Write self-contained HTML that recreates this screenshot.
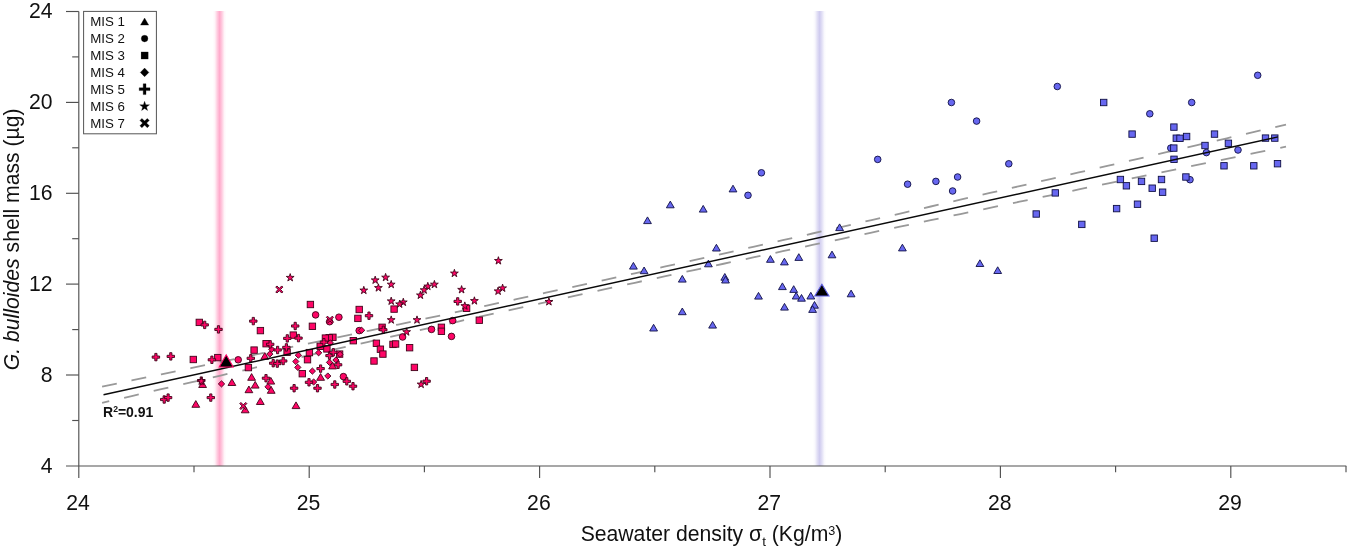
<!DOCTYPE html>
<html lang="en"><head><meta charset="utf-8"><title>G. bulloides shell mass vs seawater density</title>
<style>html,body{margin:0;padding:0;background:#fff}body{width:1350px;height:549px;overflow:hidden}svg{display:block}text{font-family:"Liberation Sans",sans-serif;fill:#111}</style></head><body>
<svg width="1350" height="549" viewBox="0 0 1350 549">
<defs>
<linearGradient id="gp" x1="0" x2="1" y1="0" y2="0"><stop offset="0" stop-color="#ffaacb" stop-opacity="0"/><stop offset="0.15" stop-color="#ffaacb" stop-opacity="0.12"/><stop offset="0.33" stop-color="#ffaacb" stop-opacity="0.62"/><stop offset="0.5" stop-color="#ffaacb" stop-opacity="1"/><stop offset="0.67" stop-color="#ffaacb" stop-opacity="0.62"/><stop offset="0.85" stop-color="#ffaacb" stop-opacity="0.12"/><stop offset="1" stop-color="#ffaacb" stop-opacity="0"/></linearGradient>
<linearGradient id="gb" x1="0" x2="1" y1="0" y2="0"><stop offset="0" stop-color="#cfcbef" stop-opacity="0"/><stop offset="0.15" stop-color="#cfcbef" stop-opacity="0.12"/><stop offset="0.33" stop-color="#cfcbef" stop-opacity="0.62"/><stop offset="0.5" stop-color="#cfcbef" stop-opacity="1"/><stop offset="0.67" stop-color="#cfcbef" stop-opacity="0.62"/><stop offset="0.85" stop-color="#cfcbef" stop-opacity="0.12"/><stop offset="1" stop-color="#cfcbef" stop-opacity="0"/></linearGradient>
</defs>
<rect width="1350" height="549" fill="#fff"/>
<rect x="212.8" y="11" width="13.6" height="455" fill="url(#gp)"/>
<rect x="812.8" y="11" width="13.6" height="455" fill="url(#gb)"/>
<g stroke="#505050" stroke-width="1.15" fill="none"><path d="M78.8 11.5V478"/><path d="M66 466H1346.3"/><path d="M72.2 420.5H78.8"/><path d="M66 375H78.8"/><path d="M72.2 329.6H78.8"/><path d="M66 284.1H78.8"/><path d="M72.2 238.7H78.8"/><path d="M66 193.3H78.8"/><path d="M72.2 147.8H78.8"/><path d="M66 102.4H78.8"/><path d="M72.2 56.9H78.8"/><path d="M66 11.5H78.8"/><path d="M194 466V472.2"/><path d="M309.2 466V478"/><path d="M424.4 466V472.2"/><path d="M539.6 466V478"/><path d="M654.8 466V472.2"/><path d="M770 466V478"/><path d="M885.2 466V472.2"/><path d="M1000.4 466V478"/><path d="M1115.6 466V472.2"/><path d="M1230.8 466V478"/><path d="M1346 466V472.2"/></g>
<g font-size="21.2"><text x="52.6" y="472.7" text-anchor="end">4</text><text x="52.6" y="381.8" text-anchor="end">8</text><text x="52.6" y="290.9" text-anchor="end">12</text><text x="52.6" y="200.1" text-anchor="end">16</text><text x="52.6" y="109.2" text-anchor="end">20</text><text x="52.6" y="18.3" text-anchor="end">24</text><text x="78.1" y="510.4" text-anchor="middle">24</text><text x="308.5" y="510.4" text-anchor="middle">25</text><text x="538.9" y="510.4" text-anchor="middle">26</text><text x="769.3" y="510.4" text-anchor="middle">27</text><text x="999.7" y="510.4" text-anchor="middle">28</text><text x="1230.1" y="510.4" text-anchor="middle">29</text></g>
<text x="711.5" y="540.6" font-size="21.2" text-anchor="middle">Seawater density σ<tspan font-size="13.5" dy="5">t</tspan><tspan dy="-5"> (Kg/m</tspan><tspan font-size="12.6" dy="-5.6">3</tspan><tspan dy="5.6">)</tspan></text>
<text transform="translate(19 239.3) rotate(-90)" font-size="21.2" text-anchor="middle"><tspan font-style="italic">G. bulloides</tspan> shell mass (µg)</text>
<g fill="none" stroke="#999" stroke-width="1.8"><polyline points="102.1,386.66 116.9,383.58 131.7,380.49 146.5,377.41 161.3,374.32 176.1,371.23 190.9,368.14 205.7,365.05 220.5,361.95 235.3,358.85 250.1,355.75 264.9,352.64 279.7,349.54 294.5,346.43 309.3,343.31 324.1,340.19 338.9,337.07 353.7,333.94 368.5,330.81 383.3,327.67 398.1,324.53 412.9,321.38 427.7,318.22 442.4,315.06 457.2,311.90 472,308.72 486.8,305.54 501.6,302.35 516.4,299.16 531.2,295.95 546,292.74 560.8,289.52 575.6,286.29 590.4,283.05 605.2,279.80 620,276.55 634.8,273.28 649.6,270.01 664.4,266.73 679.2,263.44 694,260.14 708.8,256.83 723.6,253.52 738.4,250.20 753.2,246.87 768,243.54 782.8,240.20 797.6,236.85 812.4,233.50 827.2,230.14 842,226.77 856.8,223.41 871.6,220.03 886.4,216.66 901.2,213.28 916,209.89 930.8,206.50 945.6,203.11 960.4,199.72 975.2,196.32 990,192.92 1004.8,189.52 1019.6,186.11 1034.4,182.71 1049.2,179.30 1064,175.89 1078.8,172.47 1093.6,169.06 1108.4,165.64 1123.2,162.22 1138,158.80 1152.8,155.38 1167.6,151.96 1182.4,148.54 1197.2,145.11 1212,141.69 1226.8,138.26 1241.6,134.83 1256.4,131.40 1271.2,127.97 1286,124.54" stroke-dasharray="15 15.04"/><polyline points="102.1,402.85 116.9,399.43 131.7,396.01 146.5,392.60 161.3,389.18 176.1,385.77 190.9,382.36 205.7,378.96 220.5,375.55 235.3,372.15 250.1,368.76 264.9,365.37 279.7,361.98 294.5,358.60 309.3,355.22 324.1,351.84 338.9,348.47 353.7,345.11 368.5,341.76 383.3,338.41 398.1,335.06 412.9,331.73 427.7,328.40 442.4,325.08 457.2,321.77 472,318.46 486.8,315.17 501.6,311.89 516.4,308.61 531.2,305.35 546,302.09 560.8,298.85 575.6,295.61 590.4,292.38 605.2,289.17 620,285.96 634.8,282.76 649.6,279.58 664.4,276.40 679.2,273.22 694,270.06 708.8,266.90 723.6,263.75 738.4,260.61 753.2,257.48 768,254.34 782.8,251.22 797.6,248.10 812.4,244.98 827.2,241.87 842,238.77 856.8,235.66 871.6,232.56 886.4,229.47 901.2,226.38 916,223.29 930.8,220.20 945.6,217.12 960.4,214.03 975.2,210.95 990,207.88 1004.8,204.80 1019.6,201.73 1034.4,198.66 1049.2,195.59 1064,192.52 1078.8,189.45 1093.6,186.38 1108.4,183.32 1123.2,180.26 1138,177.19 1152.8,174.13 1167.6,171.07 1182.4,168.01 1197.2,164.95 1212,161.90 1226.8,158.84 1241.6,155.78 1256.4,152.73 1271.2,149.67 1286,146.62" stroke-dasharray="15 15.33" stroke-dashoffset="7.7"/></g>
<g stroke-linejoin="miter"><path d="M264.8 352.6L268.7 359.3H260.9Z" fill="#ff0566" stroke="#40041a" stroke-width="0.9"/><path d="M202.6 380.8L206.5 387.5H198.7Z" fill="#ff0566" stroke="#40041a" stroke-width="0.9"/><path d="M231.9 378.8L235.8 385.5H228Z" fill="#ff0566" stroke="#40041a" stroke-width="0.9"/><path d="M251.6 373.6L255.5 380.3H247.7Z" fill="#ff0566" stroke="#40041a" stroke-width="0.9"/><path d="M255.2 381.4L259.1 388.1H251.3Z" fill="#ff0566" stroke="#40041a" stroke-width="0.9"/><path d="M248.9 386L252.8 392.7H245Z" fill="#ff0566" stroke="#40041a" stroke-width="0.9"/><path d="M270.8 377.4L274.7 384.1H266.9Z" fill="#ff0566" stroke="#40041a" stroke-width="0.9"/><path d="M271.2 386.6L275.1 393.3H267.3Z" fill="#ff0566" stroke="#40041a" stroke-width="0.9"/><path d="M195.8 400.6L199.7 407.3H191.9Z" fill="#ff0566" stroke="#40041a" stroke-width="0.9"/><path d="M260.3 397.8L264.2 404.5H256.4Z" fill="#ff0566" stroke="#40041a" stroke-width="0.9"/><path d="M245.2 406.1L249.1 412.8H241.3Z" fill="#ff0566" stroke="#40041a" stroke-width="0.9"/><path d="M296 401.9L299.9 408.6H292.1Z" fill="#ff0566" stroke="#40041a" stroke-width="0.9"/><path d="M320.6 373.6L324.5 380.3H316.7Z" fill="#ff0566" stroke="#40041a" stroke-width="0.9"/><path d="M332.6 362.2L336.5 368.9H328.7Z" fill="#ff0566" stroke="#40041a" stroke-width="0.9"/><circle cx="315.6" cy="314.9" r="3.3" fill="#ff0566" stroke="#40041a" stroke-width="0.9"/><circle cx="329.6" cy="321.7" r="3.3" fill="#ff0566" stroke="#40041a" stroke-width="0.9"/><circle cx="338.9" cy="317.2" r="3.3" fill="#ff0566" stroke="#40041a" stroke-width="0.9"/><circle cx="238.2" cy="359.8" r="3.3" fill="#ff0566" stroke="#40041a" stroke-width="0.9"/><circle cx="343.4" cy="376.6" r="3.3" fill="#ff0566" stroke="#40041a" stroke-width="0.9"/><circle cx="452.7" cy="320.6" r="3.3" fill="#ff0566" stroke="#40041a" stroke-width="0.9"/><circle cx="359.2" cy="330.6" r="3.3" fill="#ff0566" stroke="#40041a" stroke-width="0.9"/><circle cx="431.5" cy="329.4" r="3.3" fill="#ff0566" stroke="#40041a" stroke-width="0.9"/><circle cx="451.5" cy="336.4" r="3.3" fill="#ff0566" stroke="#40041a" stroke-width="0.9"/><circle cx="402.6" cy="337" r="3.3" fill="#ff0566" stroke="#40041a" stroke-width="0.9"/><rect x="307.2" y="301.3" width="6.4" height="6.4" fill="#ff0566" stroke="#40041a" stroke-width="0.9"/><rect x="196.1" y="319.2" width="6.4" height="6.4" fill="#ff0566" stroke="#40041a" stroke-width="0.9"/><rect x="257.2" y="327.4" width="6.4" height="6.4" fill="#ff0566" stroke="#40041a" stroke-width="0.9"/><rect x="309.2" y="323.1" width="6.4" height="6.4" fill="#ff0566" stroke="#40041a" stroke-width="0.9"/><rect x="190.1" y="356.3" width="6.4" height="6.4" fill="#ff0566" stroke="#40041a" stroke-width="0.9"/><rect x="214.6" y="354.4" width="6.4" height="6.4" fill="#ff0566" stroke="#40041a" stroke-width="0.9"/><rect x="245.2" y="364.4" width="6.4" height="6.4" fill="#ff0566" stroke="#40041a" stroke-width="0.9"/><rect x="250.9" y="346.9" width="6.4" height="6.4" fill="#ff0566" stroke="#40041a" stroke-width="0.9"/><rect x="299.1" y="370.5" width="6.4" height="6.4" fill="#ff0566" stroke="#40041a" stroke-width="0.9"/><rect x="304.3" y="356.5" width="6.4" height="6.4" fill="#ff0566" stroke="#40041a" stroke-width="0.9"/><rect x="306.2" y="349.4" width="6.4" height="6.4" fill="#ff0566" stroke="#40041a" stroke-width="0.9"/><rect x="290.1" y="331.9" width="6.4" height="6.4" fill="#ff0566" stroke="#40041a" stroke-width="0.9"/><rect x="262.9" y="340.5" width="6.4" height="6.4" fill="#ff0566" stroke="#40041a" stroke-width="0.9"/><rect x="283.9" y="349.1" width="6.4" height="6.4" fill="#ff0566" stroke="#40041a" stroke-width="0.9"/><rect x="329.7" y="334.1" width="6.4" height="6.4" fill="#ff0566" stroke="#40041a" stroke-width="0.9"/><rect x="326" y="334.5" width="6.4" height="6.4" fill="#ff0566" stroke="#40041a" stroke-width="0.9"/><rect x="322.2" y="334.9" width="6.4" height="6.4" fill="#ff0566" stroke="#40041a" stroke-width="0.9"/><rect x="317" y="343.1" width="6.4" height="6.4" fill="#ff0566" stroke="#40041a" stroke-width="0.9"/><rect x="323.7" y="345.7" width="6.4" height="6.4" fill="#ff0566" stroke="#40041a" stroke-width="0.9"/><rect x="336.4" y="350.9" width="6.4" height="6.4" fill="#ff0566" stroke="#40041a" stroke-width="0.9"/><rect x="463.4" y="305.1" width="6.4" height="6.4" fill="#ff0566" stroke="#40041a" stroke-width="0.9"/><rect x="390.9" y="305.9" width="6.4" height="6.4" fill="#ff0566" stroke="#40041a" stroke-width="0.9"/><rect x="356" y="306.3" width="6.4" height="6.4" fill="#ff0566" stroke="#40041a" stroke-width="0.9"/><rect x="354.7" y="315.2" width="6.4" height="6.4" fill="#ff0566" stroke="#40041a" stroke-width="0.9"/><rect x="476.1" y="317" width="6.4" height="6.4" fill="#ff0566" stroke="#40041a" stroke-width="0.9"/><rect x="378.9" y="324.1" width="6.4" height="6.4" fill="#ff0566" stroke="#40041a" stroke-width="0.9"/><rect x="438.2" y="324.1" width="6.4" height="6.4" fill="#ff0566" stroke="#40041a" stroke-width="0.9"/><rect x="438.2" y="328.1" width="6.4" height="6.4" fill="#ff0566" stroke="#40041a" stroke-width="0.9"/><rect x="350.1" y="337.5" width="6.4" height="6.4" fill="#ff0566" stroke="#40041a" stroke-width="0.9"/><rect x="373.2" y="340.1" width="6.4" height="6.4" fill="#ff0566" stroke="#40041a" stroke-width="0.9"/><rect x="377.2" y="346" width="6.4" height="6.4" fill="#ff0566" stroke="#40041a" stroke-width="0.9"/><rect x="379.7" y="350.9" width="6.4" height="6.4" fill="#ff0566" stroke="#40041a" stroke-width="0.9"/><rect x="370.8" y="357.8" width="6.4" height="6.4" fill="#ff0566" stroke="#40041a" stroke-width="0.9"/><rect x="389.8" y="341.2" width="6.4" height="6.4" fill="#ff0566" stroke="#40041a" stroke-width="0.9"/><rect x="392.4" y="340.8" width="6.4" height="6.4" fill="#ff0566" stroke="#40041a" stroke-width="0.9"/><rect x="406.4" y="344.5" width="6.4" height="6.4" fill="#ff0566" stroke="#40041a" stroke-width="0.9"/><rect x="411.2" y="364.2" width="6.4" height="6.4" fill="#ff0566" stroke="#40041a" stroke-width="0.9"/><path d="M221.5 380.8L224.7 383.9L221.5 387L218.3 383.9Z" fill="#ff0566" stroke="#40041a" stroke-width="0.9"/><path d="M268 383.7L271.1 386.8L268 389.9L264.9 386.8Z" fill="#ff0566" stroke="#40041a" stroke-width="0.9"/><path d="M313.6 378.9L316.8 382L313.6 385.1L310.5 382Z" fill="#ff0566" stroke="#40041a" stroke-width="0.9"/><path d="M327.8 372.9L330.9 376L327.8 379.1L324.7 376Z" fill="#ff0566" stroke="#40041a" stroke-width="0.9"/><path d="M312.4 368L315.5 371.1L312.4 374.2L309.2 371.1Z" fill="#ff0566" stroke="#40041a" stroke-width="0.9"/><path d="M297.8 364.2L300.9 367.4L297.8 370.5L294.7 367.4Z" fill="#ff0566" stroke="#40041a" stroke-width="0.9"/><path d="M295.8 358.4L298.9 361.5L295.8 364.6L292.7 361.5Z" fill="#ff0566" stroke="#40041a" stroke-width="0.9"/><path d="M298.4 352.1L301.5 355.2L298.4 358.3L295.2 355.2Z" fill="#ff0566" stroke="#40041a" stroke-width="0.9"/><path d="M318.6 349.7L321.8 352.8L318.6 355.9L315.5 352.8Z" fill="#ff0566" stroke="#40041a" stroke-width="0.9"/><path d="M271.7 346.2L274.8 349.3L271.7 352.4L268.6 349.3Z" fill="#ff0566" stroke="#40041a" stroke-width="0.9"/><path d="M269.8 351L272.9 354.1L269.8 357.2L266.7 354.1Z" fill="#ff0566" stroke="#40041a" stroke-width="0.9"/><path d="M330.3 339.8L333.4 342.9L330.3 346L327.2 342.9Z" fill="#ff0566" stroke="#40041a" stroke-width="0.9"/><path d="M340 351.2L343.1 354.3L340 357.4L336.9 354.3Z" fill="#ff0566" stroke="#40041a" stroke-width="0.9"/><path d="M335.9 356.9L339 360L335.9 363.1L332.8 360Z" fill="#ff0566" stroke="#40041a" stroke-width="0.9"/><path d="M329.5 359.2L332.6 362.4L329.5 365.5L326.4 362.4Z" fill="#ff0566" stroke="#40041a" stroke-width="0.9"/><path d="M361.6 327.2L364.8 330.3L361.6 333.4L358.5 330.3Z" fill="#ff0566" stroke="#40041a" stroke-width="0.9"/><path transform="translate(204.7 324.9)" d="M-1.1 -3.7H1.1V-1.1H3.7V1.1H1.1V3.7H-1.1V1.1H-3.7V-1.1H-1.1Z" fill="#ff0566" stroke="#40041a" stroke-width="0.9"/><path transform="translate(218.5 329.4)" d="M-1.1 -3.7H1.1V-1.1H3.7V1.1H1.1V3.7H-1.1V1.1H-3.7V-1.1H-1.1Z" fill="#ff0566" stroke="#40041a" stroke-width="0.9"/><path transform="translate(253.3 321.1)" d="M-1.1 -3.7H1.1V-1.1H3.7V1.1H1.1V3.7H-1.1V1.1H-3.7V-1.1H-1.1Z" fill="#ff0566" stroke="#40041a" stroke-width="0.9"/><path transform="translate(295.2 326)" d="M-1.1 -3.7H1.1V-1.1H3.7V1.1H1.1V3.7H-1.1V1.1H-3.7V-1.1H-1.1Z" fill="#ff0566" stroke="#40041a" stroke-width="0.9"/><path transform="translate(155.9 357.1)" d="M-1.1 -3.7H1.1V-1.1H3.7V1.1H1.1V3.7H-1.1V1.1H-3.7V-1.1H-1.1Z" fill="#ff0566" stroke="#40041a" stroke-width="0.9"/><path transform="translate(170.8 356.4)" d="M-1.1 -3.7H1.1V-1.1H3.7V1.1H1.1V3.7H-1.1V1.1H-3.7V-1.1H-1.1Z" fill="#ff0566" stroke="#40041a" stroke-width="0.9"/><path transform="translate(211.9 359.8)" d="M-1.1 -3.7H1.1V-1.1H3.7V1.1H1.1V3.7H-1.1V1.1H-3.7V-1.1H-1.1Z" fill="#ff0566" stroke="#40041a" stroke-width="0.9"/><path transform="translate(250.8 358.3)" d="M-1.1 -3.7H1.1V-1.1H3.7V1.1H1.1V3.7H-1.1V1.1H-3.7V-1.1H-1.1Z" fill="#ff0566" stroke="#40041a" stroke-width="0.9"/><path transform="translate(201.3 380.6)" d="M-1.1 -3.7H1.1V-1.1H3.7V1.1H1.1V3.7H-1.1V1.1H-3.7V-1.1H-1.1Z" fill="#ff0566" stroke="#40041a" stroke-width="0.9"/><path transform="translate(266 378.2)" d="M-1.1 -3.7H1.1V-1.1H3.7V1.1H1.1V3.7H-1.1V1.1H-3.7V-1.1H-1.1Z" fill="#ff0566" stroke="#40041a" stroke-width="0.9"/><path transform="translate(164.2 399.5)" d="M-1.1 -3.7H1.1V-1.1H3.7V1.1H1.1V3.7H-1.1V1.1H-3.7V-1.1H-1.1Z" fill="#ff0566" stroke="#40041a" stroke-width="0.9"/><path transform="translate(168.1 397.6)" d="M-1.1 -3.7H1.1V-1.1H3.7V1.1H1.1V3.7H-1.1V1.1H-3.7V-1.1H-1.1Z" fill="#ff0566" stroke="#40041a" stroke-width="0.9"/><path transform="translate(210.8 397.6)" d="M-1.1 -3.7H1.1V-1.1H3.7V1.1H1.1V3.7H-1.1V1.1H-3.7V-1.1H-1.1Z" fill="#ff0566" stroke="#40041a" stroke-width="0.9"/><path transform="translate(294.1 388.2)" d="M-1.1 -3.7H1.1V-1.1H3.7V1.1H1.1V3.7H-1.1V1.1H-3.7V-1.1H-1.1Z" fill="#ff0566" stroke="#40041a" stroke-width="0.9"/><path transform="translate(309 382.3)" d="M-1.1 -3.7H1.1V-1.1H3.7V1.1H1.1V3.7H-1.1V1.1H-3.7V-1.1H-1.1Z" fill="#ff0566" stroke="#40041a" stroke-width="0.9"/><path transform="translate(317.5 388.2)" d="M-1.1 -3.7H1.1V-1.1H3.7V1.1H1.1V3.7H-1.1V1.1H-3.7V-1.1H-1.1Z" fill="#ff0566" stroke="#40041a" stroke-width="0.9"/><path transform="translate(334.8 384.5)" d="M-1.1 -3.7H1.1V-1.1H3.7V1.1H1.1V3.7H-1.1V1.1H-3.7V-1.1H-1.1Z" fill="#ff0566" stroke="#40041a" stroke-width="0.9"/><path transform="translate(320.6 368.6)" d="M-1.1 -3.7H1.1V-1.1H3.7V1.1H1.1V3.7H-1.1V1.1H-3.7V-1.1H-1.1Z" fill="#ff0566" stroke="#40041a" stroke-width="0.9"/><path transform="translate(287.3 338.4)" d="M-1.1 -3.7H1.1V-1.1H3.7V1.1H1.1V3.7H-1.1V1.1H-3.7V-1.1H-1.1Z" fill="#ff0566" stroke="#40041a" stroke-width="0.9"/><path transform="translate(298.5 338.1)" d="M-1.1 -3.7H1.1V-1.1H3.7V1.1H1.1V3.7H-1.1V1.1H-3.7V-1.1H-1.1Z" fill="#ff0566" stroke="#40041a" stroke-width="0.9"/><path transform="translate(270.2 344.3)" d="M-1.1 -3.7H1.1V-1.1H3.7V1.1H1.1V3.7H-1.1V1.1H-3.7V-1.1H-1.1Z" fill="#ff0566" stroke="#40041a" stroke-width="0.9"/><path transform="translate(277.6 350)" d="M-1.1 -3.7H1.1V-1.1H3.7V1.1H1.1V3.7H-1.1V1.1H-3.7V-1.1H-1.1Z" fill="#ff0566" stroke="#40041a" stroke-width="0.9"/><path transform="translate(286.4 347.4)" d="M-1.1 -3.7H1.1V-1.1H3.7V1.1H1.1V3.7H-1.1V1.1H-3.7V-1.1H-1.1Z" fill="#ff0566" stroke="#40041a" stroke-width="0.9"/><path transform="translate(323.9 342.2)" d="M-1.1 -3.7H1.1V-1.1H3.7V1.1H1.1V3.7H-1.1V1.1H-3.7V-1.1H-1.1Z" fill="#ff0566" stroke="#40041a" stroke-width="0.9"/><path transform="translate(329.5 355.6)" d="M-1.1 -3.7H1.1V-1.1H3.7V1.1H1.1V3.7H-1.1V1.1H-3.7V-1.1H-1.1Z" fill="#ff0566" stroke="#40041a" stroke-width="0.9"/><path transform="translate(333.3 352.3)" d="M-1.1 -3.7H1.1V-1.1H3.7V1.1H1.1V3.7H-1.1V1.1H-3.7V-1.1H-1.1Z" fill="#ff0566" stroke="#40041a" stroke-width="0.9"/><path transform="translate(338.1 364.8)" d="M-1.1 -3.7H1.1V-1.1H3.7V1.1H1.1V3.7H-1.1V1.1H-3.7V-1.1H-1.1Z" fill="#ff0566" stroke="#40041a" stroke-width="0.9"/><path transform="translate(273.2 363.2)" d="M-1.1 -3.7H1.1V-1.1H3.7V1.1H1.1V3.7H-1.1V1.1H-3.7V-1.1H-1.1Z" fill="#ff0566" stroke="#40041a" stroke-width="0.9"/><path transform="translate(277.3 363.6)" d="M-1.1 -3.7H1.1V-1.1H3.7V1.1H1.1V3.7H-1.1V1.1H-3.7V-1.1H-1.1Z" fill="#ff0566" stroke="#40041a" stroke-width="0.9"/><path transform="translate(283.2 361)" d="M-1.1 -3.7H1.1V-1.1H3.7V1.1H1.1V3.7H-1.1V1.1H-3.7V-1.1H-1.1Z" fill="#ff0566" stroke="#40041a" stroke-width="0.9"/><path transform="translate(346.8 381.3)" d="M-1.1 -3.7H1.1V-1.1H3.7V1.1H1.1V3.7H-1.1V1.1H-3.7V-1.1H-1.1Z" fill="#ff0566" stroke="#40041a" stroke-width="0.9"/><path transform="translate(353 386.2)" d="M-1.1 -3.7H1.1V-1.1H3.7V1.1H1.1V3.7H-1.1V1.1H-3.7V-1.1H-1.1Z" fill="#ff0566" stroke="#40041a" stroke-width="0.9"/><path transform="translate(457.7 301.4)" d="M-1.1 -3.7H1.1V-1.1H3.7V1.1H1.1V3.7H-1.1V1.1H-3.7V-1.1H-1.1Z" fill="#ff0566" stroke="#40041a" stroke-width="0.9"/><path transform="translate(369 315.7)" d="M-1.1 -3.7H1.1V-1.1H3.7V1.1H1.1V3.7H-1.1V1.1H-3.7V-1.1H-1.1Z" fill="#ff0566" stroke="#40041a" stroke-width="0.9"/><path transform="translate(383.3 329.8)" d="M-1.1 -3.7H1.1V-1.1H3.7V1.1H1.1V3.7H-1.1V1.1H-3.7V-1.1H-1.1Z" fill="#ff0566" stroke="#40041a" stroke-width="0.9"/><path transform="translate(426.6 381.2)" d="M-1.1 -3.7H1.1V-1.1H3.7V1.1H1.1V3.7H-1.1V1.1H-3.7V-1.1H-1.1Z" fill="#ff0566" stroke="#40041a" stroke-width="0.9"/><polygon points="290.2,273.6 291.1,276.4 294.1,276.4 291.7,278.2 292.6,281 290.2,279.3 287.8,281 288.7,278.2 286.3,276.4 289.3,276.4" fill="#ff0566" stroke="#40041a" stroke-width="0.9"/><polygon points="201.3,377.1 202.2,379.9 205.2,379.9 202.8,381.7 203.7,384.5 201.3,382.8 198.9,384.5 199.8,381.7 197.4,379.9 200.4,379.9" fill="#ff0566" stroke="#40041a" stroke-width="0.9"/><polygon points="498.4,256.7 499.3,259.5 502.3,259.5 499.9,261.3 500.8,264.1 498.4,262.4 496,264.1 496.9,261.3 494.5,259.5 497.5,259.5" fill="#ff0566" stroke="#40041a" stroke-width="0.9"/><polygon points="454.4,269.3 455.3,272.1 458.3,272.1 455.9,273.9 456.8,276.7 454.4,275 452,276.7 452.9,273.9 450.5,272.1 453.5,272.1" fill="#ff0566" stroke="#40041a" stroke-width="0.9"/><polygon points="385.6,273.4 386.5,276.2 389.5,276.2 387.1,278 388,280.8 385.6,279.1 383.2,280.8 384.1,278 381.7,276.2 384.7,276.2" fill="#ff0566" stroke="#40041a" stroke-width="0.9"/><polygon points="375.2,276.1 376.1,278.9 379.1,278.9 376.7,280.7 377.6,283.5 375.2,281.8 372.8,283.5 373.7,280.7 371.3,278.9 374.3,278.9" fill="#ff0566" stroke="#40041a" stroke-width="0.9"/><polygon points="391.2,280.4 392.1,283.2 395.1,283.2 392.7,285 393.6,287.8 391.2,286.1 388.8,287.8 389.7,285 387.3,283.2 390.3,283.2" fill="#ff0566" stroke="#40041a" stroke-width="0.9"/><polygon points="378.4,283.8 379.3,286.6 382.3,286.6 379.9,288.4 380.8,291.2 378.4,289.5 376,291.2 376.9,288.4 374.5,286.6 377.5,286.6" fill="#ff0566" stroke="#40041a" stroke-width="0.9"/><polygon points="363.8,286.3 364.7,289.1 367.7,289.1 365.3,290.9 366.2,293.7 363.8,292 361.4,293.7 362.3,290.9 359.9,289.1 362.9,289.1" fill="#ff0566" stroke="#40041a" stroke-width="0.9"/><polygon points="434.4,280.4 435.3,283.2 438.3,283.2 435.9,285 436.8,287.8 434.4,286.1 432,287.8 432.9,285 430.5,283.2 433.5,283.2" fill="#ff0566" stroke="#40041a" stroke-width="0.9"/><polygon points="427.8,282.3 428.7,285.1 431.7,285.1 429.3,286.9 430.2,289.7 427.8,288 425.4,289.7 426.3,286.9 423.9,285.1 426.9,285.1" fill="#ff0566" stroke="#40041a" stroke-width="0.9"/><polygon points="424.1,286 425,288.8 428,288.8 425.6,290.6 426.5,293.4 424.1,291.7 421.7,293.4 422.6,290.6 420.2,288.8 423.2,288.8" fill="#ff0566" stroke="#40041a" stroke-width="0.9"/><polygon points="420.4,291.2 421.3,294 424.3,294 421.9,295.8 422.8,298.6 420.4,296.9 418,298.6 418.9,295.8 416.5,294 419.5,294" fill="#ff0566" stroke="#40041a" stroke-width="0.9"/><polygon points="461.6,285.6 462.5,288.4 465.5,288.4 463.1,290.2 464,293 461.6,291.3 459.2,293 460.1,290.2 457.7,288.4 460.7,288.4" fill="#ff0566" stroke="#40041a" stroke-width="0.9"/><polygon points="502.6,284.1 503.5,286.9 506.5,286.9 504.1,288.7 505,291.5 502.6,289.8 500.2,291.5 501.1,288.7 498.7,286.9 501.7,286.9" fill="#ff0566" stroke="#40041a" stroke-width="0.9"/><polygon points="498.1,287.1 499,289.9 502,289.9 499.6,291.7 500.5,294.5 498.1,292.8 495.7,294.5 496.6,291.7 494.2,289.9 497.2,289.9" fill="#ff0566" stroke="#40041a" stroke-width="0.9"/><polygon points="474.4,296.8 475.3,299.6 478.3,299.6 475.9,301.4 476.8,304.2 474.4,302.5 472,304.2 472.9,301.4 470.5,299.6 473.5,299.6" fill="#ff0566" stroke="#40041a" stroke-width="0.9"/><polygon points="464.8,301.9 465.7,304.7 468.7,304.7 466.3,306.5 467.2,309.3 464.8,307.6 462.4,309.3 463.3,306.5 460.9,304.7 463.9,304.7" fill="#ff0566" stroke="#40041a" stroke-width="0.9"/><polygon points="391.2,297.1 392.1,299.9 395.1,299.9 392.7,301.7 393.6,304.5 391.2,302.8 388.8,304.5 389.7,301.7 387.3,299.9 390.3,299.9" fill="#ff0566" stroke="#40041a" stroke-width="0.9"/><polygon points="403.3,298.2 404.2,301 407.2,301 404.8,302.8 405.7,305.6 403.3,303.9 400.9,305.6 401.8,302.8 399.4,301 402.4,301" fill="#ff0566" stroke="#40041a" stroke-width="0.9"/><polygon points="399.6,300.1 400.5,302.9 403.5,302.9 401.1,304.7 402,307.5 399.6,305.8 397.2,307.5 398.1,304.7 395.7,302.9 398.7,302.9" fill="#ff0566" stroke="#40041a" stroke-width="0.9"/><polygon points="391.2,315.9 392.1,318.7 395.1,318.7 392.7,320.5 393.6,323.3 391.2,321.6 388.8,323.3 389.7,320.5 387.3,318.7 390.3,318.7" fill="#ff0566" stroke="#40041a" stroke-width="0.9"/><polygon points="417,315.9 417.9,318.7 420.9,318.7 418.5,320.5 419.4,323.3 417,321.6 414.6,323.3 415.5,320.5 413.1,318.7 416.1,318.7" fill="#ff0566" stroke="#40041a" stroke-width="0.9"/><polygon points="406.6,327.9 407.5,330.7 410.5,330.7 408.1,332.5 409,335.3 406.6,333.6 404.2,335.3 405.1,332.5 402.7,330.7 405.7,330.7" fill="#ff0566" stroke="#40041a" stroke-width="0.9"/><polygon points="421.1,380.3 422,383.1 425,383.1 422.6,384.9 423.5,387.7 421.1,386 418.7,387.7 419.6,384.9 417.2,383.1 420.2,383.1" fill="#ff0566" stroke="#40041a" stroke-width="0.9"/><polygon points="548.9,297.7 549.8,300.5 552.8,300.5 550.4,302.3 551.3,305.1 548.9,303.4 546.5,305.1 547.4,302.3 545,300.5 548,300.5" fill="#ff0566" stroke="#40041a" stroke-width="0.9"/><path transform="translate(279.3 289.5) rotate(45)" d="M-0.8 -4.2H0.8V-0.8H4.2V0.8H0.8V4.2H-0.8V0.8H-4.2V-0.8H-0.8Z" fill="#ff0566" stroke="#40041a" stroke-width="0.9"/><path transform="translate(329.9 319.7) rotate(45)" d="M-0.8 -4.2H0.8V-0.8H4.2V0.8H0.8V4.2H-0.8V0.8H-4.2V-0.8H-0.8Z" fill="#ff0566" stroke="#40041a" stroke-width="0.9"/><path transform="translate(243.3 406) rotate(45)" d="M-0.8 -4.2H0.8V-0.8H4.2V0.8H0.8V4.2H-0.8V0.8H-4.2V-0.8H-0.8Z" fill="#ff0566" stroke="#40041a" stroke-width="0.9"/><path d="M633.4 262.4L637.3 269.1H629.5Z" fill="#6767f0" stroke="#101044" stroke-width="0.9"/><path d="M644.1 267L648 273.7H640.2Z" fill="#6767f0" stroke="#101044" stroke-width="0.9"/><path d="M682.3 275.4L686.2 282.1H678.4Z" fill="#6767f0" stroke="#101044" stroke-width="0.9"/><path d="M708.4 260.1L712.3 266.8H704.5Z" fill="#6767f0" stroke="#101044" stroke-width="0.9"/><path d="M716.4 244.3L720.3 251H712.5Z" fill="#6767f0" stroke="#101044" stroke-width="0.9"/><path d="M724.8 273.5L728.7 280.2H720.9Z" fill="#6767f0" stroke="#101044" stroke-width="0.9"/><path d="M725.5 276.3L729.4 283H721.6Z" fill="#6767f0" stroke="#101044" stroke-width="0.9"/><path d="M682.3 308L686.2 314.7H678.4Z" fill="#6767f0" stroke="#101044" stroke-width="0.9"/><path d="M653.6 324.3L657.5 331H649.7Z" fill="#6767f0" stroke="#101044" stroke-width="0.9"/><path d="M712.6 321.4L716.5 328.1H708.7Z" fill="#6767f0" stroke="#101044" stroke-width="0.9"/><path d="M758.5 292.4L762.4 299.1H754.6Z" fill="#6767f0" stroke="#101044" stroke-width="0.9"/><path d="M770.4 255.6L774.3 262.3H766.5Z" fill="#6767f0" stroke="#101044" stroke-width="0.9"/><path d="M784.4 258.2L788.3 264.9H780.5Z" fill="#6767f0" stroke="#101044" stroke-width="0.9"/><path d="M798.8 253.7L802.7 260.4H794.9Z" fill="#6767f0" stroke="#101044" stroke-width="0.9"/><path d="M782.4 282.9L786.3 289.6H778.5Z" fill="#6767f0" stroke="#101044" stroke-width="0.9"/><path d="M793.7 285.7L797.6 292.4H789.8Z" fill="#6767f0" stroke="#101044" stroke-width="0.9"/><path d="M796.2 292.3L800.1 299H792.3Z" fill="#6767f0" stroke="#101044" stroke-width="0.9"/><path d="M784.5 303.4L788.4 310.1H780.6Z" fill="#6767f0" stroke="#101044" stroke-width="0.9"/><path d="M733 185.2L736.9 191.9H729.1Z" fill="#6767f0" stroke="#101044" stroke-width="0.9"/><path d="M670.3 201.1L674.2 207.8H666.4Z" fill="#6767f0" stroke="#101044" stroke-width="0.9"/><path d="M703.2 205.4L707.1 212.1H699.3Z" fill="#6767f0" stroke="#101044" stroke-width="0.9"/><path d="M647.5 216.9L651.4 223.6H643.6Z" fill="#6767f0" stroke="#101044" stroke-width="0.9"/><path d="M832 251.1L835.9 257.8H828.1Z" fill="#6767f0" stroke="#101044" stroke-width="0.9"/><path d="M839.6 223.9L843.5 230.6H835.7Z" fill="#6767f0" stroke="#101044" stroke-width="0.9"/><path d="M902.4 244.2L906.3 250.9H898.5Z" fill="#6767f0" stroke="#101044" stroke-width="0.9"/><path d="M801.5 294.5L805.4 301.2H797.6Z" fill="#6767f0" stroke="#101044" stroke-width="0.9"/><path d="M810.8 292.3L814.7 299H806.9Z" fill="#6767f0" stroke="#101044" stroke-width="0.9"/><path d="M814.5 301.5L818.4 308.2H810.6Z" fill="#6767f0" stroke="#101044" stroke-width="0.9"/><path d="M812.6 305.7L816.5 312.4H808.7Z" fill="#6767f0" stroke="#101044" stroke-width="0.9"/><path d="M851.1 290.1L855 296.8H847.2Z" fill="#6767f0" stroke="#101044" stroke-width="0.9"/><path d="M979.9 259.8L983.8 266.5H976Z" fill="#6767f0" stroke="#101044" stroke-width="0.9"/><path d="M997.7 266.8L1001.6 273.5H993.8Z" fill="#6767f0" stroke="#101044" stroke-width="0.9"/><circle cx="761.4" cy="172.8" r="3.3" fill="#6767f0" stroke="#101044" stroke-width="0.9"/><circle cx="748" cy="195.3" r="3.3" fill="#6767f0" stroke="#101044" stroke-width="0.9"/><circle cx="877.7" cy="159.4" r="3.3" fill="#6767f0" stroke="#101044" stroke-width="0.9"/><circle cx="907.6" cy="184.2" r="3.3" fill="#6767f0" stroke="#101044" stroke-width="0.9"/><circle cx="1057.3" cy="86.5" r="3.3" fill="#6767f0" stroke="#101044" stroke-width="0.9"/><circle cx="951.4" cy="102.5" r="3.3" fill="#6767f0" stroke="#101044" stroke-width="0.9"/><circle cx="976.6" cy="121.1" r="3.3" fill="#6767f0" stroke="#101044" stroke-width="0.9"/><circle cx="1191.7" cy="102.5" r="3.3" fill="#6767f0" stroke="#101044" stroke-width="0.9"/><circle cx="1149.8" cy="113.8" r="3.3" fill="#6767f0" stroke="#101044" stroke-width="0.9"/><circle cx="1170.8" cy="148.1" r="3.3" fill="#6767f0" stroke="#101044" stroke-width="0.9"/><circle cx="1008.8" cy="163.8" r="3.3" fill="#6767f0" stroke="#101044" stroke-width="0.9"/><circle cx="957.6" cy="177" r="3.3" fill="#6767f0" stroke="#101044" stroke-width="0.9"/><circle cx="935.9" cy="181.4" r="3.3" fill="#6767f0" stroke="#101044" stroke-width="0.9"/><circle cx="952.6" cy="191" r="3.3" fill="#6767f0" stroke="#101044" stroke-width="0.9"/><circle cx="1190" cy="179.7" r="3.3" fill="#6767f0" stroke="#101044" stroke-width="0.9"/><circle cx="1257.7" cy="75.3" r="3.3" fill="#6767f0" stroke="#101044" stroke-width="0.9"/><circle cx="1206.4" cy="152.6" r="3.3" fill="#6767f0" stroke="#101044" stroke-width="0.9"/><circle cx="1238" cy="150" r="3.3" fill="#6767f0" stroke="#101044" stroke-width="0.9"/><rect x="1100.5" y="99.3" width="6.4" height="6.4" fill="#6767f0" stroke="#101044" stroke-width="0.9"/><rect x="1170.7" y="123.9" width="6.4" height="6.4" fill="#6767f0" stroke="#101044" stroke-width="0.9"/><rect x="1128.9" y="130.9" width="6.4" height="6.4" fill="#6767f0" stroke="#101044" stroke-width="0.9"/><rect x="1173.1" y="135" width="6.4" height="6.4" fill="#6767f0" stroke="#101044" stroke-width="0.9"/><rect x="1176.8" y="135.1" width="6.4" height="6.4" fill="#6767f0" stroke="#101044" stroke-width="0.9"/><rect x="1183.4" y="133.3" width="6.4" height="6.4" fill="#6767f0" stroke="#101044" stroke-width="0.9"/><rect x="1170.6" y="144.9" width="6.4" height="6.4" fill="#6767f0" stroke="#101044" stroke-width="0.9"/><rect x="1170.8" y="156.1" width="6.4" height="6.4" fill="#6767f0" stroke="#101044" stroke-width="0.9"/><rect x="1117.2" y="176.3" width="6.4" height="6.4" fill="#6767f0" stroke="#101044" stroke-width="0.9"/><rect x="1123.2" y="182.6" width="6.4" height="6.4" fill="#6767f0" stroke="#101044" stroke-width="0.9"/><rect x="1138.3" y="178.2" width="6.4" height="6.4" fill="#6767f0" stroke="#101044" stroke-width="0.9"/><rect x="1149" y="185" width="6.4" height="6.4" fill="#6767f0" stroke="#101044" stroke-width="0.9"/><rect x="1158.3" y="176.3" width="6.4" height="6.4" fill="#6767f0" stroke="#101044" stroke-width="0.9"/><rect x="1182.7" y="173.8" width="6.4" height="6.4" fill="#6767f0" stroke="#101044" stroke-width="0.9"/><rect x="1211.3" y="130.9" width="6.4" height="6.4" fill="#6767f0" stroke="#101044" stroke-width="0.9"/><rect x="1201.8" y="142.3" width="6.4" height="6.4" fill="#6767f0" stroke="#101044" stroke-width="0.9"/><rect x="1225.2" y="140.1" width="6.4" height="6.4" fill="#6767f0" stroke="#101044" stroke-width="0.9"/><rect x="1262.3" y="134.9" width="6.4" height="6.4" fill="#6767f0" stroke="#101044" stroke-width="0.9"/><rect x="1271.6" y="134.9" width="6.4" height="6.4" fill="#6767f0" stroke="#101044" stroke-width="0.9"/><rect x="1220.8" y="162.6" width="6.4" height="6.4" fill="#6767f0" stroke="#101044" stroke-width="0.9"/><rect x="1250.6" y="162.6" width="6.4" height="6.4" fill="#6767f0" stroke="#101044" stroke-width="0.9"/><rect x="1274.3" y="160.5" width="6.4" height="6.4" fill="#6767f0" stroke="#101044" stroke-width="0.9"/><rect x="1052.1" y="189.7" width="6.4" height="6.4" fill="#6767f0" stroke="#101044" stroke-width="0.9"/><rect x="1033" y="210.8" width="6.4" height="6.4" fill="#6767f0" stroke="#101044" stroke-width="0.9"/><rect x="1078.6" y="221.2" width="6.4" height="6.4" fill="#6767f0" stroke="#101044" stroke-width="0.9"/><rect x="1113.4" y="205.4" width="6.4" height="6.4" fill="#6767f0" stroke="#101044" stroke-width="0.9"/><rect x="1134.3" y="201" width="6.4" height="6.4" fill="#6767f0" stroke="#101044" stroke-width="0.9"/><rect x="1151" y="235" width="6.4" height="6.4" fill="#6767f0" stroke="#101044" stroke-width="0.9"/><rect x="1159.4" y="189" width="6.4" height="6.4" fill="#6767f0" stroke="#101044" stroke-width="0.9"/></g>
<path d="M103.5 394.7L1277.9 136.9" stroke="#0a0a0a" stroke-width="1.45" fill="none"/>
<path d="M226.2 354.8L233.2 367H219.2Z" fill="#000" stroke="#ff0566" stroke-width="1.1"/>
<path d="M821.9 284.2L829 296H814.8Z" fill="#000" stroke="#5a5ae0" stroke-width="1.1"/>
<text x="103" y="417.4" font-size="14" font-weight="bold">R<tspan font-size="8.6" dy="-5.4">2</tspan><tspan dy="5.4">=0.91</tspan></text>
<rect x="83.6" y="11.4" width="72.8" height="122.4" fill="#fff" stroke="#555" stroke-width="1"/>
<g font-size="13.3"><text x="90.2" y="26.2">MIS 1</text><path d="M144.6 18L148.7 25.1H140.5Z" fill="#000" stroke="#000" stroke-width="0.3"/><text x="90.2" y="43.0">MIS 2</text><circle cx="144.6" cy="38.6" r="3.3" fill="#000" stroke="#000" stroke-width="0.3"/><text x="90.2" y="59.9">MIS 3</text><rect x="141.1" y="52" width="7" height="7" fill="#000" stroke="#000" stroke-width="0.3"/><text x="90.2" y="76.8">MIS 4</text><path d="M144.6 68.1L148.9 72.4L144.6 76.7L140.3 72.4Z" fill="#000" stroke="#000" stroke-width="0.3"/><text x="90.2" y="93.6">MIS 5</text><path transform="translate(144.6 89.2)" d="M-1.4 -5.4H1.4V-1.4H5.4V1.4H1.4V5.4H-1.4V1.4H-5.4V-1.4H-1.4Z" fill="#000" stroke="#000" stroke-width="0.3"/><text x="90.2" y="110.5">MIS 6</text><polygon points="144.6,101.3 145.8,104.8 149.5,104.8 146.5,107 147.6,110.5 144.6,108.4 141.6,110.5 142.7,107 139.7,104.8 143.4,104.8" fill="#000" stroke="#000" stroke-width="0.3"/><text x="90.2" y="127.5">MIS 7</text><path transform="translate(144.6 123.1) rotate(45)" d="M-1.4 -5.2H1.4V-1.4H5.2V1.4H1.4V5.2H-1.4V1.4H-5.2V-1.4H-1.4Z" fill="#000" stroke="#000" stroke-width="0.3"/></g>
</svg></body></html>
